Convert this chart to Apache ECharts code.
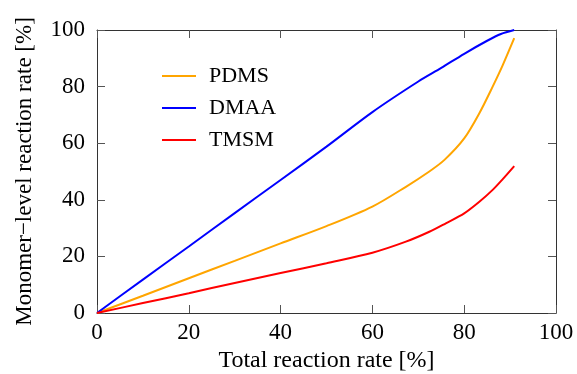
<!DOCTYPE html>
<html>
<head>
<meta charset="utf-8">
<script src="https://cdn.jsdelivr.net/npm/echarts@6/dist/echarts.min.js"></script>
<style>
  html, body { margin: 0; padding: 0; background: #fff; }
  #chart { width: 577px; height: 374px; }
</style>
</head>
<body>
<div id="chart"></div>
<script>
// Total reaction rate [%] vs. monomer-level reaction rate [%]
const seriesNames = ['PDMS', 'DMAA', 'TMSM'];

const pdmsX = [0, 10, 20, 30, 40, 50, 60, 67.3, 72.4, 75.7, 80, 83.3, 86.2, 88.4, 90.9];
const pdmsY = [0, 6.1, 12.3, 18.4, 24.6, 30.7, 37.6, 44.6, 50, 54.1, 61.7, 70.6, 80, 87.6, 97.1];

const dmaaX = [0, 10, 20, 30, 40, 50, 60, 70, 75, 80, 85, 88, 90.9];
const dmaaY = [0, 11.8, 23.5, 35.3, 47, 58.8, 71, 81.8, 86.6, 91.6, 96.2, 98.6, 100];

const tmsmX = [0, 10, 20, 30, 40, 50, 60, 67.3, 72.4, 76, 80, 83.3, 86.2, 88.4, 90.9];
const tmsmY = [0, 3.5, 7, 10.6, 14.1, 17.6, 21.3, 25.2, 28.7, 31.7, 35.2, 39.3, 43.5, 47.3, 51.9];

const colors = ['#FFA500', '#0000FF', '#FF0000'];
const xValues = [pdmsX, dmaaX, tmsmX];
const yValues = [pdmsY, dmaaY, tmsmY];

const FONT = 'Liberation Serif';
const frameColor = '#333333';
const tickColor = '#555555';

function pairs(xs, ys) { return xs.map((x, i) => [x, ys[i]]); }

const chart = echarts.init(document.getElementById('chart'), null, { renderer: 'canvas' });

const baseAxis = {
  type: 'value',
  min: 0, max: 100, interval: 20,
  axisLine: { show: true, onZero: false, lineStyle: { color: frameColor, width: 1 } },
  axisTick: { show: true, inside: true, length: 8, lineStyle: { color: tickColor, width: 1 } },
  splitLine: { show: false },
};

chart.setOption({
  animation: false,
  grid: { left: 97, right: 21, top: 30, bottom: 61, show: false, containLabel: false, outerBoundsMode: 'none' },
  legend: {
    data: seriesNames,
    orient: 'vertical',
    left: 162, top: 65,
    padding: 0,
    icon: 'rect',
    itemWidth: 34, itemHeight: 2,
    itemGap: 10,
    textStyle: { fontFamily: FONT, fontSize: 22, color: '#000', padding: [0, 0, 0, 8] },
  },
  xAxis: [
    Object.assign({}, baseAxis, {
      position: 'bottom',
      name: 'Total reaction rate [%]',
      nameLocation: 'middle', nameGap: 36,
      nameTextStyle: { fontFamily: FONT, fontSize: 24, color: '#000' },
      axisLabel: { fontFamily: FONT, fontSize: 23, color: '#000', margin: 8 },
    }),
    Object.assign({}, baseAxis, {
      position: 'top',
      axisLabel: { show: false },
    }),
  ],
  yAxis: [
    Object.assign({}, baseAxis, {
      position: 'left',
      name: 'Monomer\u2212level reaction rate [%]',
      nameLocation: 'middle', nameGap: 61,
      nameTextStyle: { fontFamily: FONT, fontSize: 23, color: '#000' },
      axisLabel: { fontFamily: FONT, fontSize: 23, color: '#000', margin: 12 },
    }),
    Object.assign({}, baseAxis, {
      position: 'right',
      axisLabel: { show: false },
    }),
  ],
  series: seriesNames.map((name, i) => ({
    name,
    type: 'line',
    xAxisIndex: 0, yAxisIndex: 0,
    data: pairs(xValues[i], yValues[i]),
    smooth: 0.3,
    showSymbol: false,
    itemStyle: { color: colors[i] },
    lineStyle: { color: colors[i], width: 2 },
  })),
});
</script>
</body>
</html>
